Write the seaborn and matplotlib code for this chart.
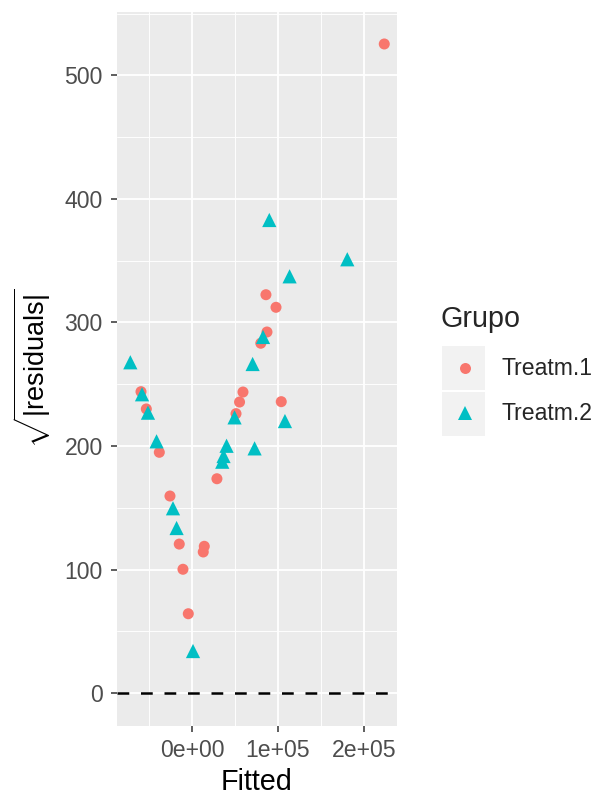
import matplotlib
matplotlib.use("Agg")
import matplotlib.pyplot as plt
import numpy as np
import pandas as pd
import seaborn as sns
from matplotlib.ticker import FixedLocator, FixedFormatter
from matplotlib.lines import Line2D
from matplotlib.patches import Rectangle

# Fitted values and sqrt(|residuals|) per group
treat1_fitted = [2.236e5, -0.593e5, -0.531e5, -0.380e5, -0.256e5, -0.148e5, -0.105e5,
                 -0.043e5, 0.131e5, 0.143e5, 0.290e5, 0.512e5, 0.553e5, 0.593e5,
                 0.800e5, 0.860e5, 0.872e5, 0.977e5, 1.038e5]
treat1_resid = [525.5, 244.0, 230.0, 194.9, 159.5, 120.6, 100.2,
                64.2, 114.2, 118.8, 173.5, 226.2, 235.6, 243.7,
                283.2, 322.5, 292.3, 312.3, 235.9]
treat2_fitted = [-0.717e5, -0.581e5, -0.512e5, -0.412e5, -0.221e5, -0.179e5, 0.012e5,
                 0.352e5, 0.367e5, 0.402e5, 0.495e5, 0.705e5, 0.728e5, 0.826e5,
                 0.899e5, 1.081e5, 1.135e5, 1.806e5]
treat2_resid = [267.8, 241.9, 227.0, 203.8, 149.6, 133.6, 34.0,
                187.3, 191.9, 200.2, 223.2, 266.4, 198.1, 288.3,
                383.0, 220.2, 337.4, 351.2]
groups = ["Treatm.1", "Treatm.2"]
group_colors = ["#F8766D", "#00BFC4"]
x_breaks = [0, 1e5, 2e5]
x_labels = ["0e+00", "1e+05", "2e+05"]
x_minor = [-0.5e5, 0.5e5, 1.5e5]
y_breaks = [0, 100, 200, 300, 400, 500]
y_labels = ["0", "100", "200", "300", "400", "500"]
y_minor = [50, 150, 250, 350, 450, 550]

df = pd.DataFrame({
    "Fitted": treat1_fitted + treat2_fitted,
    "resid": treat1_resid + treat2_resid,
    "Grupo": [groups[0]] * len(treat1_fitted) + [groups[1]] * len(treat2_fitted),
})

sns.set_theme(style="white")
plt.rcParams["font.family"] = ["Liberation Sans", "DejaVu Sans"]
plt.rcParams["mathtext.fontset"] = "custom"
plt.rcParams["mathtext.rm"] = "Liberation Sans"
plt.rcParams["mathtext.it"] = "Liberation Sans:italic"

W, H = 605, 799
fig = plt.figure(figsize=(W / 100, H / 100), dpi=100)
ax = fig.add_axes([117 / W, 1 - 726 / H, 280 / W, 714 / H])
ax.set_facecolor("#EBEBEB")
for s in ax.spines.values():
    s.set_visible(False)

palette = dict(zip(groups, group_colors))
sns.scatterplot(data=df, x="Fitted", y="resid", hue="Grupo", style="Grupo",
                size="Grupo", sizes={groups[0]: 63, groups[1]: 105},
                markers={groups[0]: "o", groups[1]: "^"}, palette=palette,
                linewidth=0, legend=False, ax=ax, zorder=3)

ax.axhline(0, color="black", lw=1.8, linestyle=(0, (4.7, 4.7)), zorder=2)

ax.set_xlim(-0.872e5, 2.384e5)
ax.set_ylim(-26.7, 551.4)
ax.xaxis.set_major_locator(FixedLocator(x_breaks))
ax.xaxis.set_major_formatter(FixedFormatter(x_labels))
ax.xaxis.set_minor_locator(FixedLocator(x_minor))
ax.yaxis.set_major_locator(FixedLocator(y_breaks))
ax.yaxis.set_major_formatter(FixedFormatter(y_labels))
ax.yaxis.set_minor_locator(FixedLocator(y_minor))
ax.grid(which="major", color="white", lw=1.3)
ax.grid(which="minor", color="white", lw=0.65)
ax.set_axisbelow(True)
ax.tick_params(which="major", length=4.3, width=1.1, color="#333333",
               labelcolor="#4D4D4D", labelsize=16.6)
ax.tick_params(axis="x", which="major", pad=5, bottom=True)
ax.tick_params(axis="y", which="major", pad=6, left=True)
ax.tick_params(which="minor", length=0)
ax.set_xlabel("")
ax.set_ylabel("")

fig.text(257 / W, 1 - 790 / H, "Fitted", ha="center", va="baseline",
         fontsize=20.7, color="black")
fig.text(32 / W, 1 - 368 / H, r"$\sqrt{|\mathrm{residuals}|}$", rotation=90,
         ha="center", va="center", fontsize=19.5, color="black")

# legend
fig.text(441 / W, 1 - 327 / H, "Grupo", ha="left", va="baseline", fontsize=20.7)
key_rows = [(346, 367.7, 375), (392, 412.7, 420.5)]
for (top, cy, base), g, c, m, ms in zip(key_rows, groups, group_colors, ["o", "^"], [7.9, 9.6]):
    fig.add_artist(Rectangle((442 / W, 1 - (top + 43.5) / H), 43.5 / W, 43.5 / H,
                             transform=fig.transFigure, color="#F2F2F2", lw=0))
    fig.add_artist(Line2D([465 / W], [1 - cy / H], marker=m, ms=ms, color=c, lw=0,
                          markeredgewidth=0, transform=fig.transFigure))
    fig.text(501.7 / W, 1 - base / H, g, ha="left", va="baseline", fontsize=16.6)

fig.savefig("out.png", dpi=100)
